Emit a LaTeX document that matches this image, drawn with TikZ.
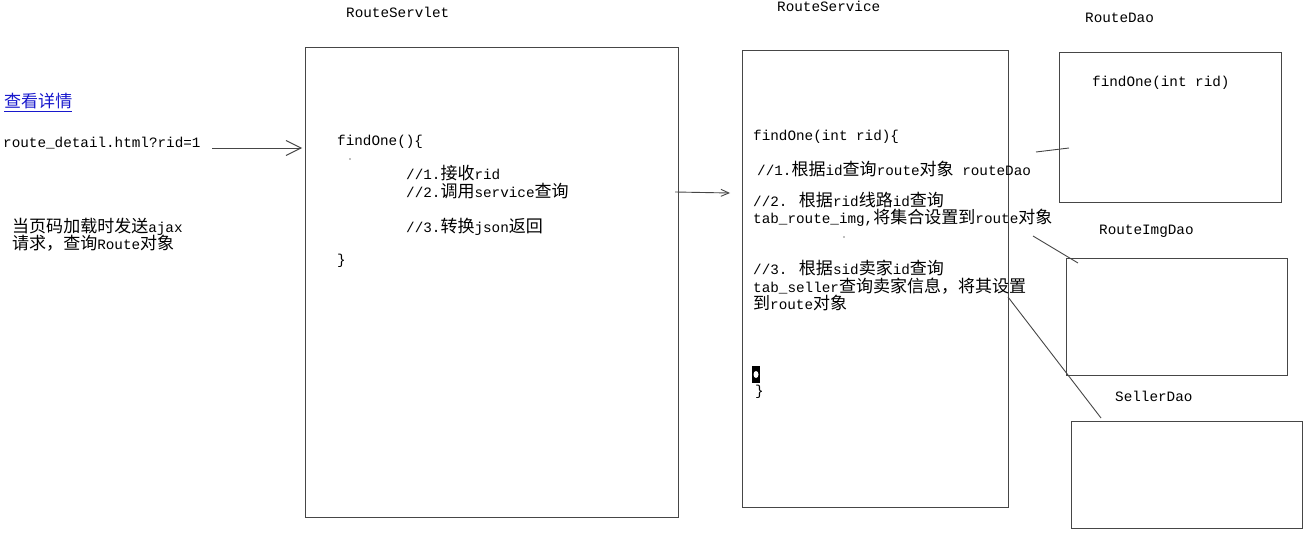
\documentclass[tikz,border=0pt]{standalone}
\usepackage{fontspec}
\setmainfont{Liberation Mono}
\newfontfamily\cjk{Noto Sans CJK SC}[Scale=1.19]
\usetikzlibrary{arrows.meta}
\definecolor{linegray}{RGB}{70,70,70}
\definecolor{linkblue}{RGB}{24,24,204}

\begin{document}
\begin{tikzpicture}[
	x=1pt, y=-1pt,
	% Define the styles for boxes, texts and lines
	every node/.style={inner sep=0pt, font=\fontsize{14.3}{17}\selectfont},
	box/.style={draw=linegray, line width=1pt, anchor=north west},
	code/.style={anchor=base west, align=left},
	wire/.style={draw=linegray, line width=0.9pt}
	]
	\useasboundingbox (0,0) rectangle (1309,556);
	
	% --- BOXES ---
	% Format: \node (name) at (left,top) [box, minimum width=w, minimum height=h] {};
	
	\node (servlet) at (305,47) [box, minimum width=373pt, minimum height=470pt] {};
	\node (service) at (742,50) [box, minimum width=266pt, minimum height=457pt] {};
	\node (routedao) at (1059,52) [box, minimum width=222pt, minimum height=150pt] {};
	\node (imgdao) at (1066,258) [box, minimum width=221pt, minimum height=117pt] {};
	\node (sellerdao) at (1071,421) [box, minimum width=231pt, minimum height=107pt] {};
	
	% --- TITLES ---
	\node (servlettitle) at (346,17.5) [code] {RouteServlet};
	\node (servicetitle) at (777,11.5) [code] {RouteService};
	\node (routedaotitle) at (1085,22.5) [code] {RouteDao};
	\node (imgdaotitle) at (1099,234.5) [code] {RouteImgDao};
	\node (sellerdaotitle) at (1115,401.5) [code] {SellerDao};
	
	% --- PAGE ---
	% (a node of several lines sits on the baseline of its last line)
	\node (link) at (4,108) [code, text=linkblue] {\cjk\underline{查看详情}};
	\node (url) at (3,147.5) [code] {route\_detail.html?rid=1};
	\node (note) at (12,249.5) [code] {{\cjk 当页码加载时发送}ajax\\[-1pt]{\cjk 请求，查询}Route{\cjk 对象}};
	
	% --- SERVLET CODE ---
	\node (servletfind) at (337,145.5) [code] {findOne()\{};
	\node (servletstep) at (406,197.5) [code] {//1.{\cjk 接收}rid\\[1pt]//2.{\cjk 调用}service{\cjk 查询}};
	\node (servletjson) at (406,232.5) [code] {//3.{\cjk 转换}json{\cjk 返回}};
	\node (servletend) at (337,264.5) [code] {\}};
	
	% --- SERVICE CODE ---
	\node (servicefind) at (753,140.5) [code] {findOne(int rid)\{};
	\node (servicestep1) at (757,175.5) [code] {//1.{\cjk 根据}id{\cjk 查询}route{\cjk 对象} routeDao};
	\node (servicestep2) at (753,223.5) [code] {//2. {\cjk 根据}rid{\cjk 线路}id{\cjk 查询}\\tab\_route\_img,{\cjk 将集合设置到}route{\cjk 对象}};
	\node (servicestep3) at (753,309.5) [code] {//3. {\cjk 根据}sid{\cjk 卖家}id{\cjk 查询}\\[0.5pt]tab\_seller{\cjk 查询卖家信息，将其设置}\\[0.5pt]{\cjk 到}route{\cjk 对象}};
	\node (caret) at (756,374.5) [fill=black, minimum width=8pt, minimum height=17pt] {};
	\fill[white] (caret.center) ellipse (2.5 and 3.5);
	\node (serviceend) at (755,395.5) [code] {\}};
	
	% --- DAO CODE ---
	\node (daofind) at (1092,86.5) [code] {findOne(int rid)};
	
	% specks left on the board
	\fill[gray] (350,159) circle (0.8);
	\fill[gray] (844,237) circle (0.8);
	
	% --- LINES ---
	\coordinate (reqstart) at (212,148);
	\coordinate (reqend) at (302,148);
	\coordinate (callstart) at (675,192);
	\coordinate (callend) at (730,193);
	\coordinate (daostart) at (1036,152);
	\coordinate (daoend) at (1069,148);
	\coordinate (imgstart) at (1033,236);
	\coordinate (imgend) at (1078,263);
	\coordinate (sellerstart) at (1008,297);
	\coordinate (sellerend) at (1101,418);
	
	\draw[wire, -{Straight Barb[length=15pt, width=15pt]}] (reqstart) -- (reqend);
	\draw[wire, -{Straight Barb[length=8pt, width=7pt]}] (callstart) -- (callend);
	\draw[wire] (daostart) -- (daoend);
	\draw[wire] (imgstart) -- (imgend);
	\draw[wire] (sellerstart) -- (sellerend);
	
\end{tikzpicture}
\end{document}
